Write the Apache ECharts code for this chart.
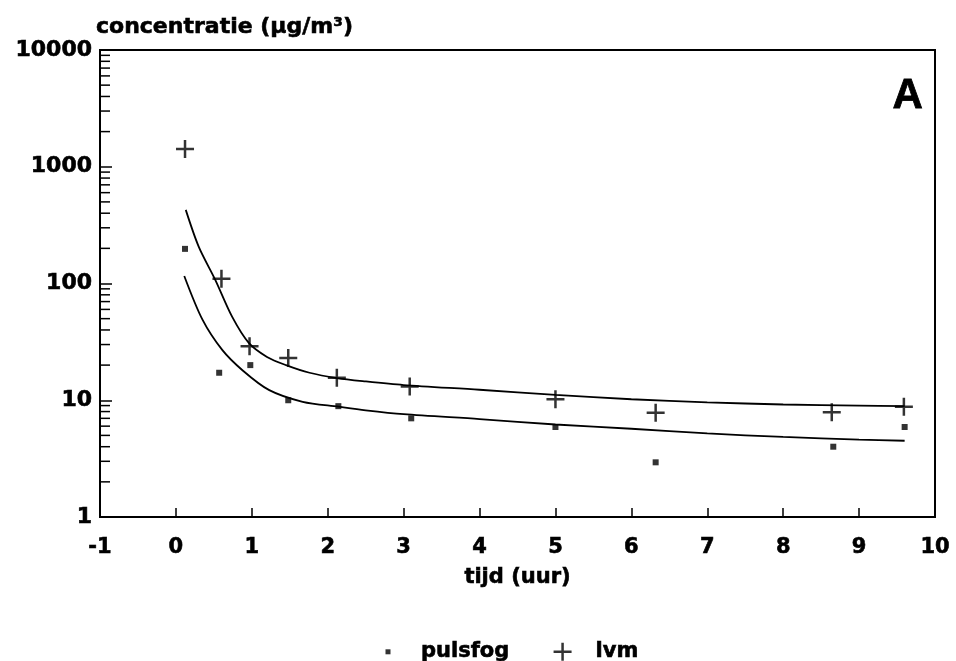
<!DOCTYPE html>
<html><head><meta charset="utf-8">
<script src="https://cdn.jsdelivr.net/npm/echarts@6/dist/echarts.min.js"></script>
<style>html,body{margin:0;padding:0;background:#fff}#c{width:956px;height:661px}</style>
</head><body><div id="c"></div>
<script>
// measured points
const lvmX = [0.12, 0.60, 0.97, 1.48, 2.12, 3.08, 5.0, 6.32, 8.64, 9.59];
const lvmY = [1420, 110, 29, 23, 15.6, 13.1, 10.2, 7.8, 7.9, 8.8];
const pulsX = [0.12, 0.57, 0.98, 1.48, 2.14, 3.10, 5.0, 6.32, 8.66, 9.6];
const pulsY = [198, 17.2, 20, 10.0, 8.9, 7.0, 5.9, 2.94, 4.0, 5.9];
// fitted curves
const fitLvmX = [0.13, 0.30, 0.52, 0.74, 0.96, 1.20, 1.45, 1.76, 2.12, 2.5, 3.0, 4.0, 5.0, 6.0, 7.0, 8.0, 9.0, 9.6];
const fitLvmY = [427, 207, 107, 52, 31, 23.5, 20, 17.2, 15.5, 14.5, 13.5, 12.3, 11.1, 10.2, 9.6, 9.2, 9.0, 8.9];
const fitPulsX = [0.11, 0.35, 0.61, 0.88, 1.23, 1.67, 2.14, 2.5, 3.0, 4.0, 5.0, 6.0, 7.0, 8.0, 9.0, 9.6];
const fitPulsY = [116, 49, 27, 18, 12.2, 9.7, 8.8, 8.2, 7.6, 6.9, 6.2, 5.7, 5.2, 4.85, 4.6, 4.5];
const yMinorTicks = [2,3,4,5,6,7,8,9,20,30,40,50,60,70,80,90,200,300,400,500,600,700,800,900,2000,3000,4000,5000,6000,7000,8000,9000];
const xTickLabels = ['-1','0','1','2','3','4','5','6','7','8','9','10'];

const zip = (a, b) => a.map((v, i) => [v, b[i]]);
const FONT = 'DejaVu Sans';
const heavy = {textBorderColor: '#000', textBorderWidth: 0.6};
const plusPath = 'path://M0 7.75 H18 V10.25 H0 Z M7.75 0 H10.25 V18 H7.75 Z';
const dotIcon = 'path://M0 0 M18 18 M6.5 6.5 H11.5 V11.5 H6.5 Z';

const chart = echarts.init(document.getElementById('c'), null, {renderer: 'canvas'});
chart.setOption({
  animation: false,
  backgroundColor: '#fff',
  grid: {left: 100, right: 21, top: 50, bottom: 144, show: true, borderColor: '#000', borderWidth: 2, backgroundColor: 'transparent'},
  xAxis: {
    type: 'value', min: -1, max: 10, interval: 1,
    name: 'tijd (uur)', nameLocation: 'middle', nameGap: 50,
    nameTextStyle: Object.assign({fontFamily: FONT, fontWeight: 'bold', fontSize: 21, color: '#000'}, heavy),
    axisLine: {onZero: false, lineStyle: {color: '#000', width: 2}},
    axisTick: {inside: true, length: 9, lineStyle: {color: '#000', width: 1.5}},
    axisLabel: Object.assign({fontFamily: FONT, fontWeight: 'bold', fontSize: 21, color: '#000', margin: 20,
      formatter: v => xTickLabels[Math.round(v) + 1]}, heavy),
    splitLine: {show: false}
  },
  yAxis: {
    type: 'log', logBase: 10, min: 1, max: 10000,
    name: 'concentratie (µg/m³)', nameLocation: 'end', nameGap: 11,
    nameTextStyle: Object.assign({fontFamily: FONT, fontWeight: 'bold', fontSize: 22, color: '#000', align: 'left', verticalAlign: 'bottom', padding: [0, 0, 0, -4]}, heavy),
    axisLine: {show: true, onZero: false, lineStyle: {color: '#000', width: 2}},
    axisTick: {inside: true, length: 12, lineStyle: {color: '#000', width: 1.5}},
    axisLabel: Object.assign({fontFamily: FONT, fontWeight: 'bold', fontSize: 22, color: '#000', margin: 8,
      formatter: v => String(Math.round(v))}, heavy),
    splitLine: {show: false}
  },
  legend: {
    left: 374, top: 636, itemWidth: 18, itemHeight: 18, itemGap: 44,
    data: [{name: 'pulsfog', icon: dotIcon}, {name: 'lvm', icon: plusPath}],
    textStyle: Object.assign({fontFamily: FONT, fontWeight: 'bold', fontSize: 21, color: '#000', padding: [0, 0, 0, 19]}, heavy),
    itemStyle: {color: '#000'}
  },
  graphic: [{
    type: 'text', left: 892, top: 75,
    style: {text: 'A', font: 'bold 42px "Liberation Sans"', fill: '#000', stroke: '#000', lineWidth: 0.8}
  }],
  series: [
    {
      type: 'custom', name: 'minor', silent: true, clip: false,
      data: yMinorTicks.map(v => [-1, v]),
      renderItem: (params, api) => {
        const p = api.coord([-1, api.value(1)]);
        return {type: 'line', shape: {x1: p[0], y1: p[1], x2: p[0] + 10, y2: p[1]}, style: {stroke: '#000', lineWidth: 1.5}};
      },
      z: 5
    },
    {
      type: 'line', name: 'fitLvm', data: zip(fitLvmX, fitLvmY), showSymbol: false, symbol: 'none',
      smooth: 0.3, lineStyle: {color: '#000', width: 1.8}, silent: true
    },
    {
      type: 'line', name: 'fitPuls', data: zip(fitPulsX, fitPulsY), showSymbol: false, symbol: 'none',
      smooth: 0.3, lineStyle: {color: '#000', width: 1.8}, silent: true
    },
    {
      type: 'scatter', name: 'pulsfog', data: zip(pulsX, pulsY), symbol: 'rect', symbolSize: 6,
      itemStyle: {color: '#000'}
    },
    {
      type: 'scatter', name: 'lvm', data: zip(lvmX, lvmY), symbol: plusPath, symbolSize: 18,
      itemStyle: {color: '#000'}
    }
  ]
});
</script></body></html>
